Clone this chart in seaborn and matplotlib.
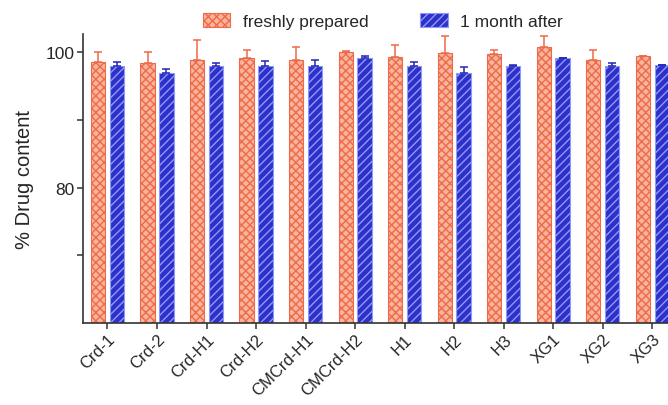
import matplotlib
matplotlib.use("Agg")
import matplotlib.pyplot as plt
import seaborn as sns
import pandas as pd
import numpy as np
from matplotlib.patches import Patch

formulations = ["Crd-1", "Crd-2", "Crd-H1", "Crd-H2", "CMCrd-H1", "CMCrd-H2",
                "H1", "H2", "H3", "XG1", "XG2", "XG3"]
fresh_mean = [98.6, 98.4, 98.9, 99.1, 98.9, 100.1, 99.25, 99.9, 99.75, 100.85, 98.9, 99.4]
fresh_err = [1.4, 1.6, 2.85, 1.3, 1.85, 0.1, 1.85, 2.5, 0.65, 1.55, 1.5, 0.1]
month_mean = [98.0, 97.0, 98.0, 98.0, 98.0, 99.1, 98.0, 97.0, 98.0, 99.1, 98.0, 98.1]
month_err = [0.5, 0.5, 0.4, 0.75, 0.9, 0.4, 0.6, 0.85, 0.05, 0.1, 0.4, 0.05]
series = ["freshly prepared", "1 month after"]

df = pd.DataFrame({
    "formulation": formulations * 2,
    "content": fresh_mean + month_mean,
    "time": [series[0]] * len(formulations) + [series[1]] * len(formulations),
})

sns.set_style("ticks")
plt.rcParams["font.family"] = ["Liberation Sans", "DejaVu Sans"]
plt.rcParams["hatch.linewidth"] = 1.0

orange_face, orange_edge = "#f8b49c", "#ee6a48"
blue_face, blue_edge = "#2f2fcc", "#8c9cf2"

fig = plt.figure(figsize=(6.68, 4.06), dpi=100)
ax = fig.add_axes([0.1238, 0.202, 0.8897, 0.7118])

sns.barplot(data=df, x="formulation", y="content", hue="time",
            palette=[orange_face, blue_face], width=0.76, gap=0.24,
            legend=False, ax=ax)

styles = [(orange_face, orange_edge, "xxxx", "#ee6a48"),
          (blue_face, blue_edge, "////", "#2424b8")]
errs = [fresh_err, month_err]
means = [fresh_mean, month_mean]
for cont, (fc, ec, hatch, errc), err, mean in zip(ax.containers, styles, errs, means):
    xs = []
    for bar in cont:
        bar.set_facecolor(fc)
        bar.set_edgecolor(ec)
        bar.set_hatch(hatch)
        bar.set_linewidth(0.8)
        xs.append(bar.get_x() + bar.get_width() / 2)
    ax.errorbar(xs, mean, yerr=[np.zeros(len(err)), err], fmt="none",
                ecolor=errc, elinewidth=1.1, capsize=2.9, capthick=1.1)

ax.set_ylim(60, 102.7)
ax.set_xlim(-0.5, len(formulations) - 0.5)
ax.set_yticks([80, 100])
ax.set_yticks([70, 90], minor=True)
ax.tick_params(axis="y", which="both", length=4.5, width=1.1, color="#333333",
               labelsize=12.5, pad=1.5)
ax.tick_params(axis="x", length=4, width=1.1, color="#333333", labelsize=12, pad=2)
plt.setp(ax.get_xticklabels(), rotation=45, ha="right", rotation_mode="anchor")

ax.set_xlabel("")
ax.set_ylabel("% Drug content", fontsize=14.5, labelpad=8)
for side in ["top", "right"]:
    ax.spines[side].set_visible(False)
for side in ["left", "bottom"]:
    ax.spines[side].set_color("#333333")
    ax.spines[side].set_linewidth(1.2)

handles = [Patch(facecolor=fc, edgecolor=ec, hatch=h, linewidth=0.8, label=s)
           for (fc, ec, h, _), s in zip(styles, series)]
fig.legend(handles=handles, loc="center", bbox_to_anchor=(0.573, 0.946), ncol=2,
           frameon=False, fontsize=12.5, handlelength=1.6, handleheight=0.9,
           handletextpad=0.7, columnspacing=3.0)

fig.savefig("out.png", dpi=100)
